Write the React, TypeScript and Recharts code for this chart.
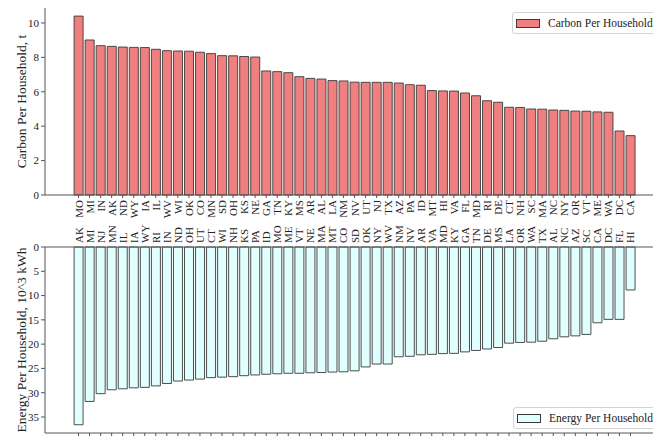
import { BarChart, Bar, XAxis, YAxis, Legend } from "recharts";

const FONT = '"Liberation Serif", "Times New Roman", serif';
const RED = "#F08080";
const CYAN = "#E0FFFF";
const EDGE = "#3a3a3a";
const SPINE = "#555";

// ─── data ────────────────────────────────────────────────────────────────────

const carbonStates = [
  "MO", "MI", "IN", "AK", "ND", "WY", "IA", "IL", "WV", "WI", "OK", "CO", "MN",
  "SD", "OH", "KS", "NE", "GA", "TN", "KY", "MS", "AR", "AL", "LA", "NM", "NV",
  "UT", "NJ", "TX", "AZ", "PA", "ID", "MT", "HI", "VA", "FL", "MD", "RI", "DE",
  "CT", "NH", "SC", "MA", "NC", "NY", "OR", "VT", "ME", "WA", "DC", "CA",
];
const carbonValues = [
  10.4, 9.01, 8.68, 8.64, 8.6, 8.58, 8.57, 8.47, 8.39, 8.37, 8.36, 8.3, 8.22,
  8.1, 8.09, 8.05, 8.02, 7.21, 7.17, 7.11, 6.88, 6.78, 6.74, 6.65, 6.63, 6.56,
  6.55, 6.55, 6.55, 6.51, 6.41, 6.38, 6.07, 6.05, 6.04, 5.93, 5.77, 5.48, 5.39,
  5.1, 5.09, 5.0, 4.99, 4.94, 4.92, 4.88, 4.87, 4.83, 4.81, 3.72, 3.45,
];

const energyStates = [
  "AK", "MI", "NJ", "MN", "IL", "IA", "WY", "RI", "IN", "ND", "OH", "UT", "CT",
  "WI", "NH", "KS", "PA", "ID", "MO", "ME", "VT", "NE", "MA", "MT", "CO", "SD",
  "OK", "NY", "WV", "NM", "NV", "AR", "VA", "MD", "KY", "GA", "TN", "DE", "MS",
  "LA", "OR", "WA", "TX", "AL", "NC", "AZ", "SC", "CA", "DC", "FL", "HI",
];
const energyValues = [
  36.6, 31.8, 30.2, 29.4, 29.2, 29.0, 28.9, 28.6, 28.1, 27.6, 27.4, 27.2, 26.9,
  26.8, 26.7, 26.5, 26.35, 26.2, 26.1, 26.0, 26.0, 25.9, 25.85, 25.75, 25.7, 25.5,
  24.7, 24.1, 24.1, 22.6, 22.5, 22.2, 22.1, 21.95, 21.9, 21.6, 21.3, 21.0, 20.7,
  19.8, 19.65, 19.6, 19.4, 18.9, 18.5, 18.3, 18.0, 15.6, 14.9, 14.9, 8.85,
];

const carbonTicks = [0, 2, 4, 6, 8, 10];
const energyTicks = [0, 5, 10, 15, 20, 25, 30, 35];

const carbonData = carbonStates.map((state, i) => ({ state, carbon: carbonValues[i] }));
const energyData = energyStates.map((state, i) => ({ state, energy: energyValues[i] }));

// ─── helpers ─────────────────────────────────────────────────────────────────

function RotatedTick({ x, y, payload, anchor }: any) {
  return (
    <text
      x={x}
      y={y}
      transform={`rotate(-90 ${x} ${y})`}
      textAnchor={anchor}
      dominantBaseline="central"
      fontSize={11}
      style={{ fontFamily: FONT }}
      fill="#222"
    >
      {payload.value}
    </text>
  );
}

function LegendBox({ label, fill }: { label: string; fill: string }) {
  return (
    <div
      style={{
        display: "flex",
        alignItems: "center",
        border: "1px solid #d4d4d4",
        borderRadius: 3,
        background: "#fff",
        padding: "4px 10px 4px 3px",
        fontSize: 11.5,
        fontFamily: FONT,
        whiteSpace: "nowrap",
        color: "#222",
        lineHeight: "12px",
      }}
    >
      <span
        style={{
          display: "inline-block",
          width: 22,
          height: 7,
          background: fill,
          border: `1px solid ${EDGE}`,
          marginRight: 8,
        }}
      />
      {label}
    </div>
  );
}

const tickStyle = { fontSize: 11, fontFamily: FONT, style: { fontFamily: FONT }, fill: "#222" };
const titleStyle = { fontSize: 13.5, fontFamily: FONT, fill: "#222" };

export default function App() {
  return (
    <div
      style={{
        position: "absolute",
        left: 0,
        top: 0,
        width: 653,
        height: 436,
        overflow: "hidden",
        background: "#fff",
        fontFamily: FONT,
      }}
    >
      {/* top panel: carbon per household */}
      <div style={{ position: "absolute", left: 0, top: 0 }}>
        <BarChart
          width={720}
          height={230}
          data={carbonData}
          margin={{ top: 8, right: 58, left: 0, bottom: 0 }}
          barCategoryGap="10%"
          style={{ fontFamily: FONT }}
        >
          <XAxis
            dataKey="state"
            interval={0}
            height={35}
            padding={{ left: 28, right: 26 }}
            tickSize={3}
            tickMargin={2}
            stroke={SPINE}
            tick={(p: any) => <RotatedTick {...p} anchor="end" />}
          />
          <XAxis
            xAxisId="topSpine"
            dataKey="state"
            orientation="top"
            height={0}
            tick={false}
            tickLine={false}
            stroke={SPINE}
          />
          <YAxis
            width={45}
            domain={[0, 10.87]}
            ticks={carbonTicks}
            tickSize={4}
            tickMargin={2}
            stroke={SPINE}
            tick={tickStyle}
            label={{ value: "Carbon Per Household, t", angle: -90, position: "center", dx: -1, style: titleStyle }}
          />
          <Legend
            layout="horizontal"
            verticalAlign="middle"
            align="center"
            wrapperStyle={{ left: 512, top: 12, width: "auto", height: "auto" }}
            content={() => <LegendBox label="Carbon Per Household" fill={RED} />}
          />
          <Bar
            dataKey="carbon"
            name="Carbon Per Household"
            fill={RED}
            stroke={EDGE}
            strokeWidth={0.9}
            isAnimationActive={false}
          />
        </BarChart>
      </div>

      {/* bottom panel: energy per household, hanging down */}
      <div style={{ position: "absolute", left: 0, top: 200 }}>
        <BarChart
          width={720}
          height={236}
          data={energyData}
          margin={{ top: 0, right: 58, left: 0, bottom: 0 }}
          barCategoryGap="10%"
          style={{ fontFamily: FONT }}
        >
          <XAxis
            dataKey="state"
            orientation="top"
            interval={0}
            height={47}
            padding={{ left: 28, right: 26 }}
            tickLine={false}
            tickSize={0}
            tickMargin={4}
            stroke={SPINE}
            tick={(p: any) => <RotatedTick {...p} anchor="start" />}
          />
          <XAxis
            xAxisId="ticks"
            dataKey="state"
            orientation="bottom"
            interval={0}
            height={3}
            padding={{ left: 28, right: 26 }}
            tickSize={3}
            stroke={SPINE}
            tickFormatter={() => ""}
          />
          <YAxis
            width={45}
            reversed
            domain={[0, 38.3]}
            ticks={energyTicks}
            tickSize={4}
            tickMargin={2}
            stroke={SPINE}
            tick={tickStyle}
            label={{ value: "Energy Per Household, 10^3 kWh", angle: -90, position: "center", dx: -1, style: titleStyle }}
          />
          <Legend
            layout="horizontal"
            verticalAlign="middle"
            align="center"
            wrapperStyle={{ left: 513, top: 207, width: "auto", height: "auto" }}
            content={() => <LegendBox label="Energy Per Household" fill={CYAN} />}
          />
          <Bar
            dataKey="energy"
            name="Energy Per Household"
            fill={CYAN}
            stroke={EDGE}
            strokeWidth={0.9}
            isAnimationActive={false}
          />
        </BarChart>
      </div>
    </div>
  );
}
